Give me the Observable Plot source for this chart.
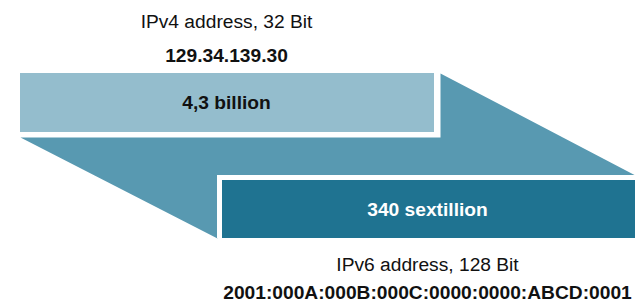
<!DOCTYPE html>
<html>
<head>
<meta charset="utf-8">
<script src="https://cdn.jsdelivr.net/npm/d3@7"></script>
<script src="https://cdn.jsdelivr.net/npm/@observablehq/plot@0.6"></script>
<style>
  html, body { margin: 0; padding: 0; background: #fff; }
  svg { display: block; }
</style>
</head>
<body>
<div id="chart"></div>
<script>
// Content
const versions = ["IPv4", "IPv6"];
const headers = ["IPv4 address, 32 Bit", "IPv6 address, 128 Bit"];
const examples = ["129.34.139.30", "2001:000A:000B:000C:0000:0000:ABCD:0001"];
const counts = ["4,3 billion", "340 sextillion"];

// Diagram geometry (in a 635 x 304 coordinate space)
const barX1 = [20, 222];
const barX2 = [434, 635];
const barY1 = [73, 180];
const barY2 = [132, 238];
const gap = 5;
const funnelX = [20, 440, 440, 635, 217, 217];
const funnelY = [137, 137, 73, 175, 175, 238];
const headerY = [21, 264];
const exampleY = [55, 292];
const textCx = [226, 427];

const colors = {bar: ["#94bdcd", "#1f7391"], funnel: "#5899b1", text: ["#111", "#fff"]};

const bars = versions.map((v, i) => ({
  v, x1: barX1[i], x2: barX2[i], y1: barY1[i], y2: barY2[i],
  cx: textCx[i], cy: (barY1[i] + barY2[i]) / 2,
  header: headers[i], example: examples[i], count: counts[i],
  hy: headerY[i], ey: exampleY[i]
}));
const funnel = funnelX.map((x, i) => ({x, y: funnelY[i]}));

const font = "Liberation Sans, Arial, sans-serif";
const fs = 19.2;

const chart = Plot.plot({
  width: 635,
  height: 304,
  margin: 0,
  style: {fontFamily: font, background: "#fff"},
  x: {domain: [0, 635], range: [0, 635], axis: null},
  y: {domain: [0, 304], range: [0, 304], axis: null},
  marks: [
    Plot.line(funnel, {x: "x", y: "y", fill: colors.funnel, stroke: "none", curve: "linear"}),
    Plot.rect(bars, {x1: d => d.x1 - (d.v === "IPv6" ? gap : 0), x2: d => d.x2 + (d.v === "IPv4" ? gap + 1 : 0), y1: d => d.y1 - (d.v === "IPv6" ? gap : 0), y2: d => d.y2 + (d.v === "IPv4" ? gap : 0), fill: "#fff"}),
    Plot.rect(bars, {x1: "x1", x2: "x2", y1: "y1", y2: "y2", fill: (d, i) => colors.bar[i]}),
    Plot.text(bars, {x: "cx", y: "cy", text: "count", fill: (d, i) => colors.text[i], fontSize: fs, fontWeight: "bold", lineAnchor: "middle"}),
    Plot.text(bars, {x: "cx", y: "hy", text: "header", fill: "#111", fontSize: fs, lineAnchor: "middle"}),
    Plot.text(bars, {x: "cx", y: "ey", text: "example", fill: "#111", fontSize: fs, fontWeight: "bold", lineAnchor: "middle"})
  ]
});
document.getElementById("chart").appendChild(chart);
</script>
</body>
</html>
